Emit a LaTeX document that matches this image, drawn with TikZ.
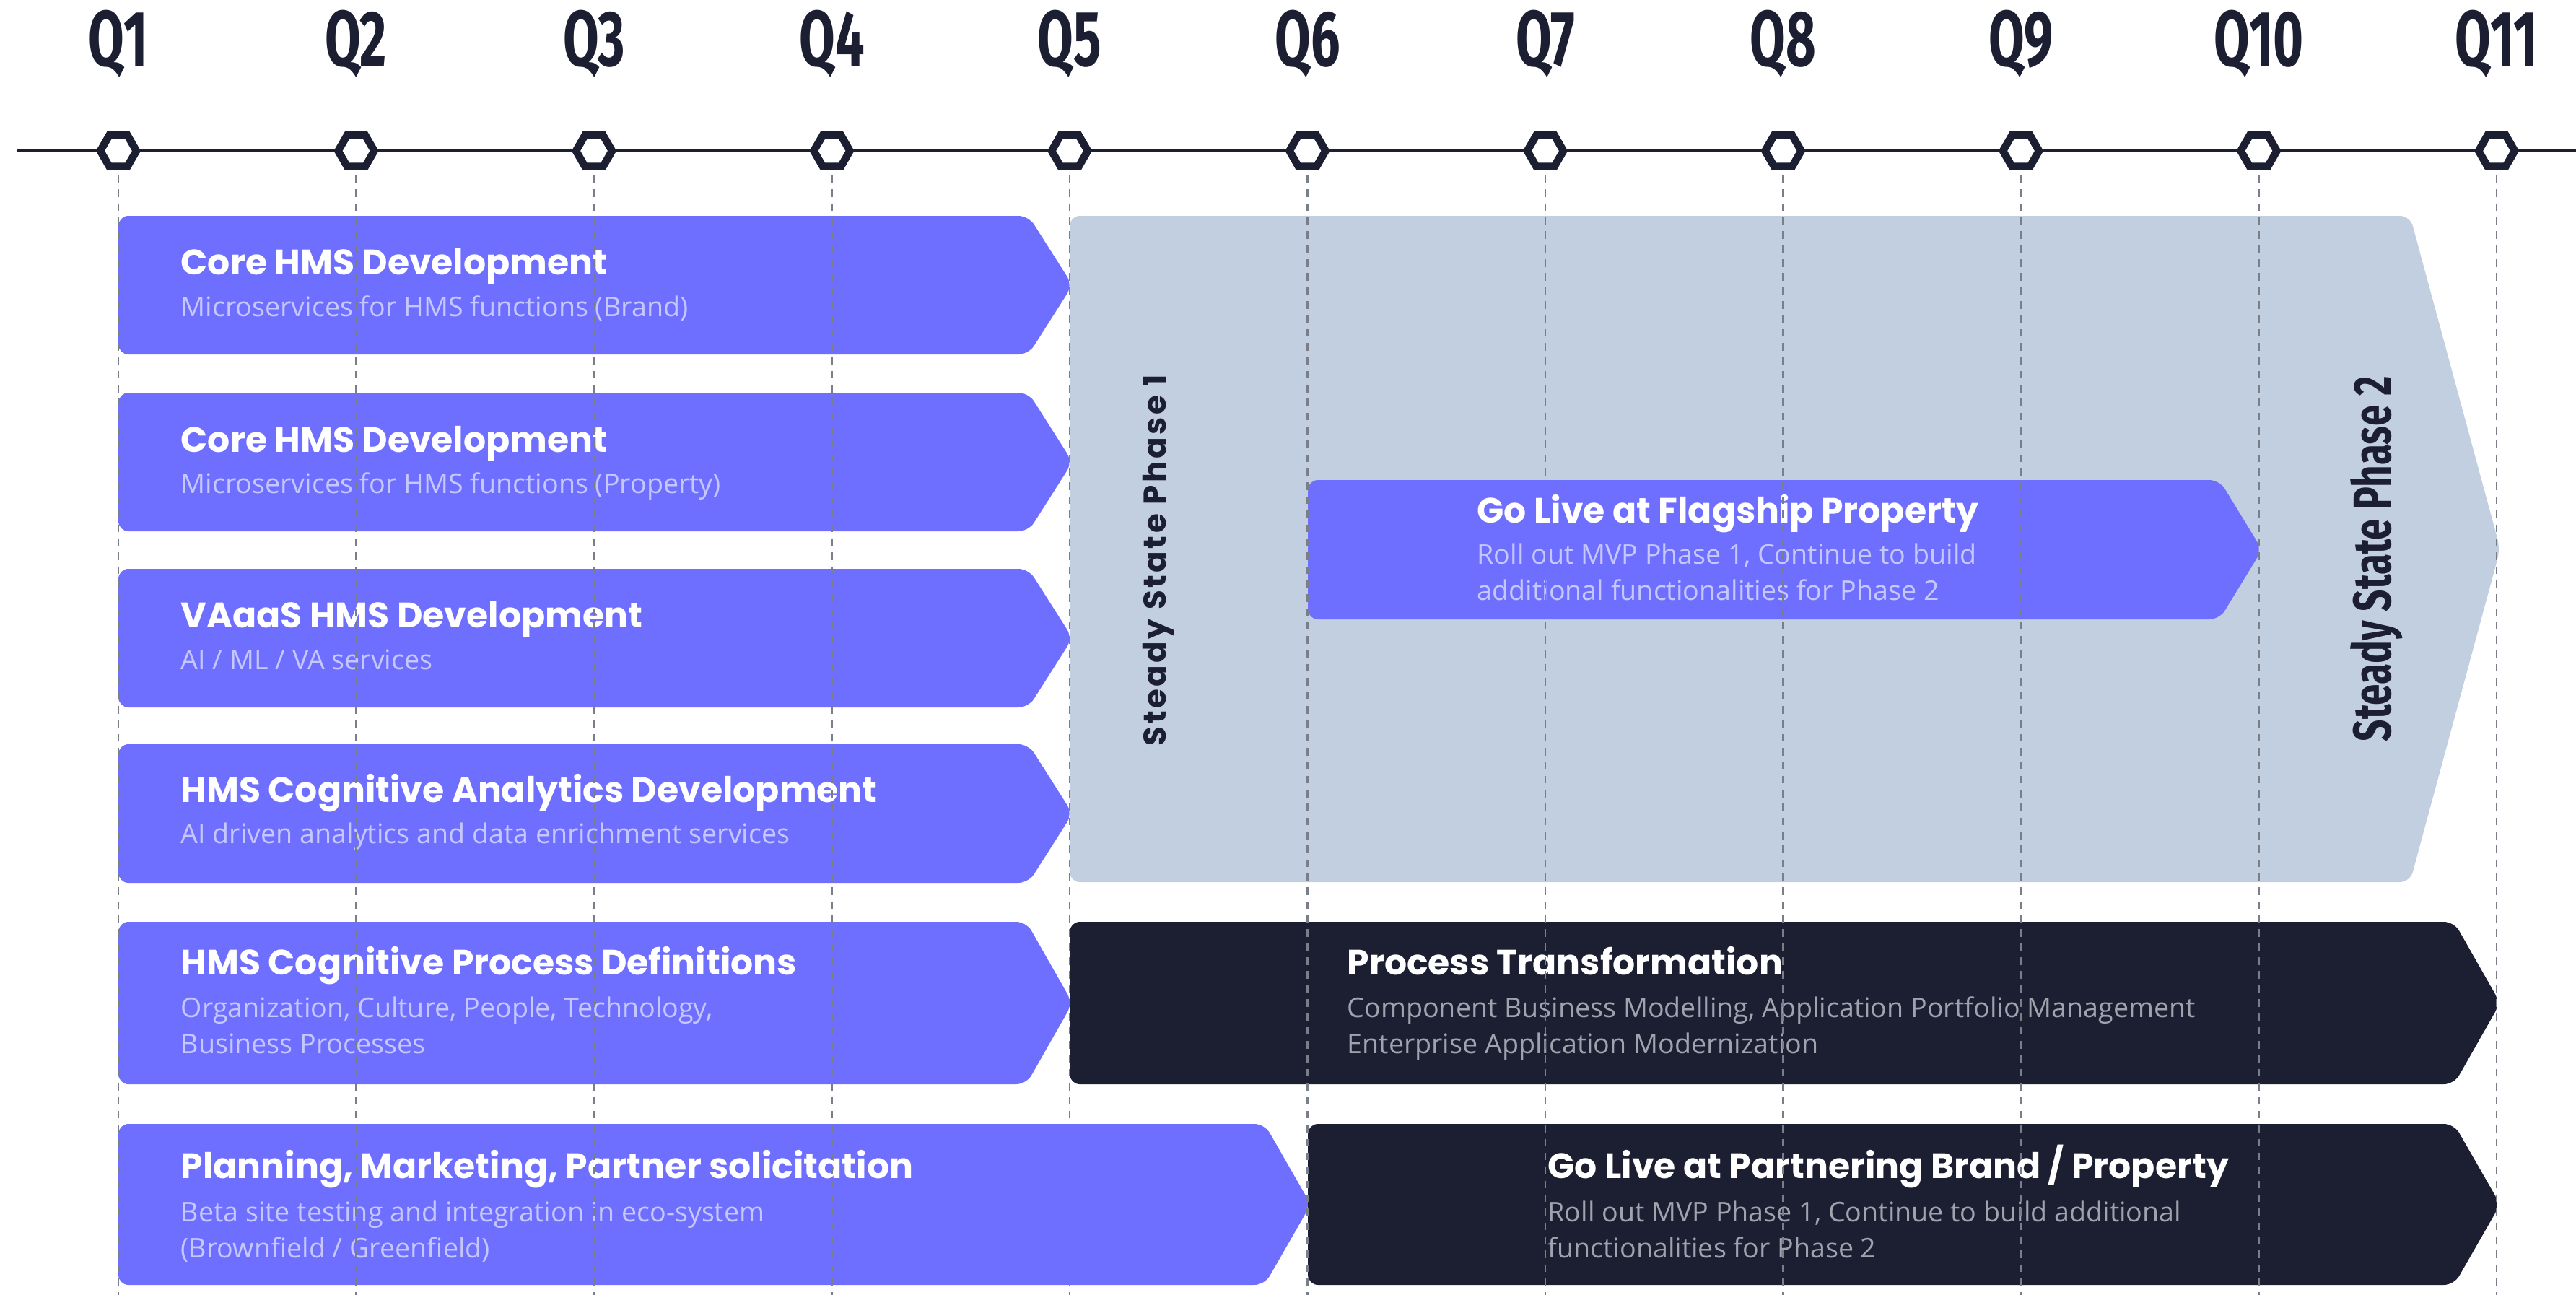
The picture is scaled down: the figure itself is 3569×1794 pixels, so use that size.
\documentclass[tikz,border=0pt]{standalone}
\usepackage{fontspec}
\usetikzlibrary{shapes.geometric}
\setmainfont{Open Sans}
\newfontfamily\titlefont{Poppins}
\newfontfamily\phasefont[LetterSpace=8]{Poppins}
\newfontfamily\qfont[FakeStretch=0.66]{Fira Sans}
\newfontfamily\phasetwofont[FakeStretch=0.72]{Fira Sans}
\definecolor{hmsblue}{HTML}{6F6FFF}
\definecolor{steadygray}{HTML}{C2CFE0}
\definecolor{navy}{HTML}{1B1F31}
\definecolor{lavender}{HTML}{C6C7FF}
\definecolor{subgray}{HTML}{A0A3AD}
\definecolor{gridgray}{HTML}{7A7E88}
% x1,y1,x2,y2,tip depth,style
\newcommand{\chevron}[6]{\fill[#6] (#1,#2) -- (#3-#5,#2) -- (#3+4,{(#2+#4)/2}) -- (#3-#5,#4) -- (#1,#4) -- cycle;}
\begin{document}
\begin{tikzpicture}[x=0.01cm,y=-0.01cm]
        \tikzstyle{qlabel}=[text=navy,inner sep=0pt,font=\qfont\bfseries\fontsize{31}{31}\selectfont]
        \tikzstyle{hexmark}=[regular polygon,regular polygon sides=6,draw=navy,fill=white,line width=3pt,minimum size=0.5cm,inner sep=0pt]
        \tikzstyle{gridline}=[draw=gridgray,line width=0.8pt,dash pattern=on 3pt off 2.5pt]
        \tikzstyle{bluebox}=[fill=hmsblue,rounded corners=4pt]
        \tikzstyle{darkbox}=[fill=navy,rounded corners=4pt]
        \tikzstyle{steadybox}=[fill=steadygray,rounded corners=4pt]
        \tikzstyle{boxtitle}=[anchor=base west,inner sep=0pt,text=white,font=\titlefont\bfseries\fontsize{13.9}{15}\selectfont]
        \tikzstyle{boxsub}=[anchor=base west,inner sep=0pt,align=left,font=\fontsize{10.7}{14.2}\selectfont]
        \tikzstyle{phase}=[rotate=90,text=navy,inner sep=0pt]
        \useasboundingbox (0,0) rectangle (3569,1794);

        \chevron{164}{299}{1482}{491}{57}{bluebox}
        \chevron{164}{544}{1482}{736}{57}{bluebox}
        \chevron{164}{788}{1482}{980}{57}{bluebox}
        \chevron{164}{1031}{1482}{1223}{57}{bluebox}
        \chevron{164}{1277}{1482}{1502}{60}{bluebox}
        \chevron{164}{1557}{1812}{1780}{60}{bluebox}
        \chevron{1482}{299}{3460}{1222}{121}{steadybox}
        \chevron{1812}{665}{3130}{858}{55}{bluebox}
        \chevron{1482}{1277}{3460}{1502}{60}{darkbox}
        \chevron{1812}{1557}{3460}{1780}{60}{darkbox}

        \coordinate (tlstart) at (23,209);
        \coordinate (tlend) at (3569,209);
        \draw[navy,line width=1.4pt] (tlstart) -- (tlend);
        \foreach \i in {1,...,11} {
          \node[qlabel] (q\i) at ({164+(\i-1)*329.5},61) {Q\i};
          \node[hexmark] (h\i) at ({164+(\i-1)*329.5},209) {};
        }

        \node[boxtitle] (t1) at (250,380) {Core HMS Development};
        \node[boxsub,text=lavender] (s1) at (250,438) {Microservices for HMS functions (Brand)};
        \node[boxtitle] (t2) at (250,626) {Core HMS Development};
        \node[boxsub,text=lavender] (s2) at (250,683) {Microservices for HMS functions (Property)};
        \node[boxtitle] (t3) at (250,869) {VAaaS HMS Development};
        \node[boxsub,text=lavender] (s3) at (250,927) {AI / ML / VA services};
        \node[boxtitle] (t4) at (250,1111) {HMS Cognitive Analytics Development};
        \node[boxsub,text=lavender] (s4) at (250,1168) {AI driven analytics and data enrichment services};
        \node[boxtitle] (t5) at (250,1350) {HMS Cognitive Process Definitions};
        \node[boxsub,text=lavender] (s5) at (250,1459) {Organization, Culture, People, Technology,\\Business Processes};
        \node[boxtitle] (t6) at (250,1632) {Planning, Marketing, Partner solicitation};
        \node[boxsub,text=lavender] (s6) at (250,1742) {Beta site testing and integration in eco-system\\(Brownfield / Greenfield)};

        \node[boxtitle] (tflag) at (2046,724) {Go Live at Flagship Property};
        \node[boxsub,text=lavender] (sflag) at (2046,831) {Roll out MVP Phase 1, Continue to build\\additional functionalities for Phase 2};
        \node[boxtitle] (tproc) at (1866,1350) {Process Transformation};
        \node[boxsub,text=subgray] (sproc) at (1866,1459) {Component Business Modelling, Application Portfolio Management\\Enterprise Application Modernization};
        \node[boxtitle] (tpart) at (2144,1632) {Go Live at Partnering Brand / Property};
        \node[boxsub,text=subgray] (spart) at (2144,1742) {Roll out MVP Phase 1, Continue to build additional\\functionalities for Phase 2};

        \node[phase,font=\phasefont\bfseries\fontsize{12.4}{12}\selectfont] (ph1) at (1605,776) {Steady State Phase 1};
        \node[phase,font=\phasetwofont\bfseries\fontsize{21}{21}\selectfont] (ph2) at (3293,774) {Steady State Phase 2};

        \foreach \i in {1,...,11}
          \draw[gridline] ([yshift=-2pt]h\i.south) -- (h\i |- 0,1794);
\end{tikzpicture}
\end{document}
